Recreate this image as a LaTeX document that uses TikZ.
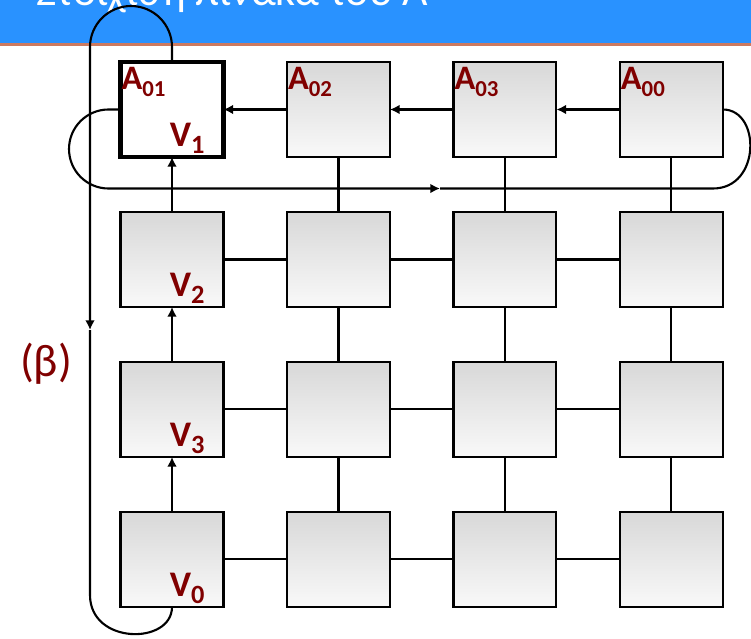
\documentclass[tikz,border=0pt]{standalone}
\usepackage{fontspec}
\setmainfont{Carlito}
\usepackage{xcolor}
\usetikzlibrary{positioning, arrows.meta}

\definecolor{labred}{RGB}{128,0,0}
\definecolor{boxtop}{RGB}{216,216,216}
\definecolor{boxbot}{RGB}{249,249,249}
\definecolor{headblue}{RGB}{41,146,255}
\definecolor{headrule}{RGB}{204,122,96}

\newcommand{\Alabel}[1]{\textbf{\fontsize{19.5}{19.5}\selectfont A\raisebox{-4.4pt}{\fontsize{13}{13}\selectfont #1}}}
\newcommand{\Vlabel}[1]{\textbf{\fontsize{20.5}{20.5}\selectfont V\raisebox{-4pt}{\fontsize{15}{15}\selectfont #1}}}

\begin{document}
\begin{tikzpicture}[
    x=0.02cm, y=-0.02cm,
    pe/.style={rectangle, draw=black, line width=1.2pt, top color=boxtop,
      bottom color=boxbot, minimum width=2.06cm, minimum height=1.9cm,
      inner sep=0pt, outer sep=0pt},
    active/.style={rectangle, draw=black, line width=2.8pt, fill=white,
      minimum width=2.06cm, minimum height=1.9cm, inner sep=0pt, outer sep=0pt},
    lab/.style={text=labred, inner sep=0pt, outer sep=0pt},
    link/.style={line width=1.2pt},
    pass/.style={link, -{Latex[length=5.5pt, width=5.5pt]}},
    ring/.style={line width=1.2pt}
    ]
    \useasboundingbox (0,0) rectangle (751,639);

    % Bandeau
    \fill[headblue] (0,0) rectangle (751,43);
    \fill[headrule] (0,43) rectangle (751,45.5);
    \node[anchor=base west, text=white, inner sep=0pt,
      font=\fontsize{25}{25}\selectfont] (title) at (36,6) {Στοίχιση πίνακα του Α};

    % Premiere ligne
    \node[active] (a01) at (172,109.5) {};
    \node[pe, right=1.27cm of a01] (a02) {};
    \node[pe, right=1.27cm of a02] (a03) {};
    \node[pe, right=1.27cm of a03] (a00) {};

    % Premiere colonne
    \node[pe, below=1.1cm of a01] (v2) {};
    \node[pe, below=1.1cm of v2] (v3) {};
    \node[pe, below=1.1cm of v3] (v0) {};

    % Reste de la grille
    \foreach \r/\first in {2/v2, 3/v3, 4/v0} {
      \node[pe, right=1.27cm of \first] (p\r2) {};
      \node[pe, right=1.27cm of p\r2] (p\r3) {};
      \node[pe, right=1.27cm of p\r3] (p\r4) {};
    }

    % Etiquettes A
    \node[lab, below right=2.8pt and 0.6pt of a01.north west] {\Alabel{01}};
    \node[lab, below right=2.8pt and 0.6pt of a02.north west] {\Alabel{02}};
    \node[lab, below right=2.8pt and 0.6pt of a03.north west] {\Alabel{03}};
    \node[lab, below right=2.8pt and 0.6pt of a00.north west] {\Alabel{00}};

    % Etiquettes V
    \node[lab, above left=2pt and 10.8pt of a01.south east] {\Vlabel{1}};
    \node[lab, above left=2pt and 10.8pt of v2.south east] {\Vlabel{2}};
    \node[lab, above left=2pt and 10.8pt of v3.south east] {\Vlabel{3}};
    \node[lab, above left=2pt and 10.8pt of v0.south east] {\Vlabel{0}};

    % Decalages
    \draw[pass] (a00) -- (a03);
    \draw[pass] (a03) -- (a02);
    \draw[pass] (a02) -- (a01);
    \draw[pass] (v0) -- (v3);
    \draw[pass] (v3) -- (v2);
    \draw[pass] (v2) -- (a01);

    % Liens de la grille
    \foreach \r/\first in {2/v2, 3/v3, 4/v0}
      \draw[link] (\first) -- (p\r2) -- (p\r3) -- (p\r4);
    \foreach \c/\head in {2/a02, 3/a03, 4/a00}
      \draw[link] (\head) -- (p2\c) -- (p3\c) -- (p4\c);

    % Boucle de la ligne
    \coordinate (rowmid) at (440,188.5);
    \draw[ring, -{Latex[length=5.5pt, width=5.5pt]}] (a01.west) -- ++(-12,0)
      arc[start angle=-90, end angle=-270, radius=39.5] -- (rowmid);
    \draw[ring] (rowmid) -- (713,188.5)
      .. controls (761,188.5) and (761,109.5) .. (a00.east);

    % Boucle de la colonne (beta)
    \coordinate (coldown) at (90,330);
    \draw[ring, -{Latex[length=5.5pt, width=5.5pt]}] (a01.north) -- ++(0,-15)
      arc[start angle=0, end angle=-180, radius=41] -- (coldown);
    \draw[ring] (coldown) -- (90,595) .. controls (90,645) and (172,645) .. (v0.south);

    \node[text=labred, font=\fontsize{26}{26}\selectfont] (beta) at (46,364) {(β)};

  \end{tikzpicture}
\end{document}
